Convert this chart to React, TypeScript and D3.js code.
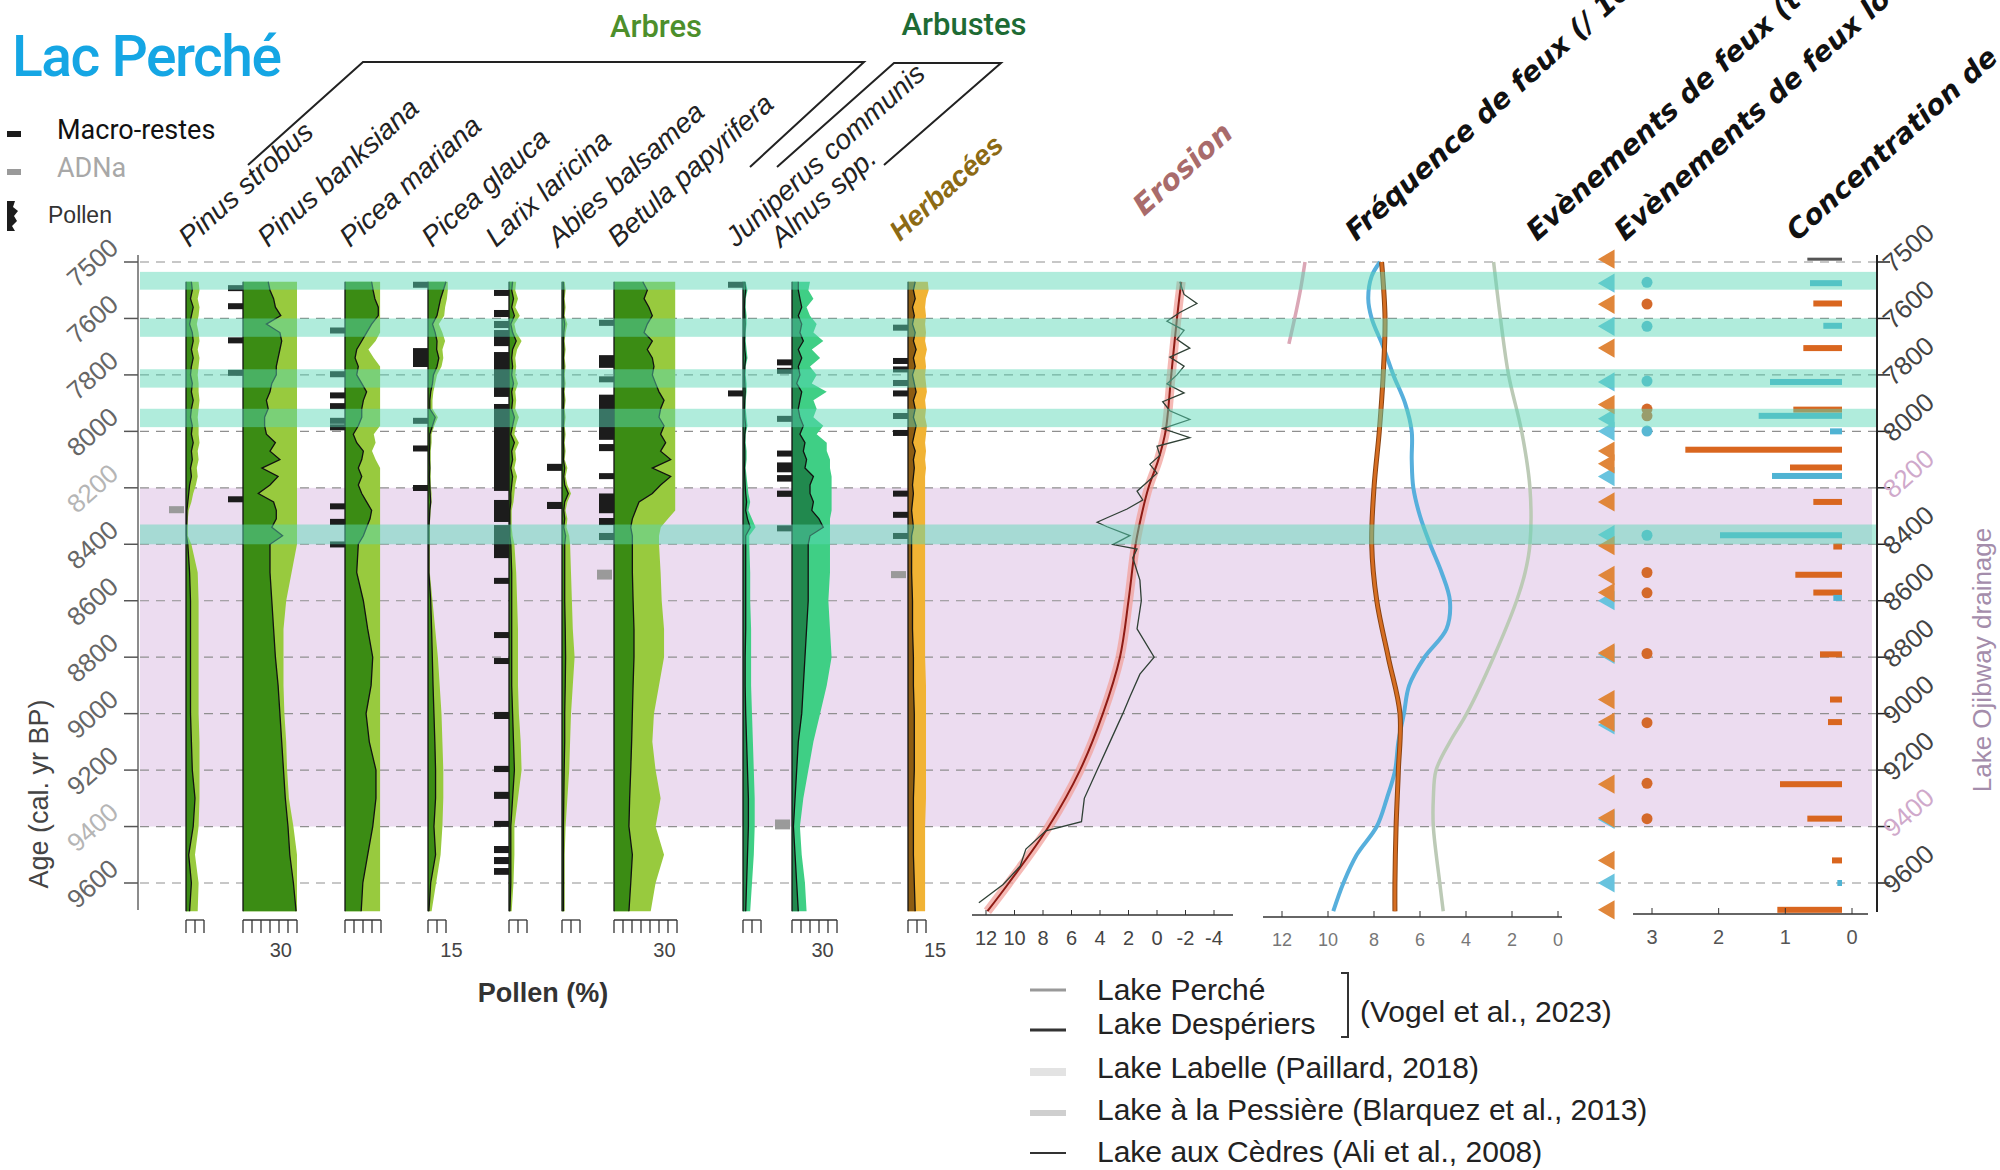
import * as d3 from 'd3'

// ---------- data ----------
const ageTicks = [7400, 7600, 7800, 8000, 8200, 8400, 8600, 8800, 9000, 9200, 9400, 9600]
const ageTickLabels = ['7500', '7600', '7800', '8000', '8200', '8400', '8600', '8800', '9000', '9200', '9400', '9600']
const ojibwayDrainage = [8200, 9400]
const fireBands = [[7435, 7498], [7600, 7665], [7780, 7845], [7920, 7985], [8330, 8400]]

const pollenAges = [7470, 7500, 7530, 7560, 7590, 7620, 7650, 7680, 7710, 7740, 7770, 7800, 7830, 7860, 7890, 7920, 7950, 7980, 8010, 8040, 8070, 8100, 8130, 8160, 8190, 8220, 8250, 8280, 8310, 8340, 8370, 8400, 8500, 8600, 8700, 8800, 8900, 9000, 9100, 9200, 9300, 9400, 9500, 9600, 9700]

const strobusDark = [3, 3.5, 2.5, 4, 3, 2, 3.5, 4, 3, 4, 3, 2.5, 3.5, 3, 4, 3, 2.5, 3.5, 3, 4, 3, 3.5, 2.5, 3, 2, 1.5, 1, 0.5, 0.5, 0.3, 0.3, 1, 2, 2.5, 2.5, 2.5, 2.5, 2.5, 3, 3.5, 5, 4, 1.5, 3, 2]
const strobusLight = [7, 7.5, 6.5, 7.5, 7, 6, 7, 7.5, 6.5, 7.5, 7, 6.5, 7, 7, 7.5, 7, 6.5, 7, 7, 7.5, 6.5, 7, 6, 6.5, 5.5, 4, 3, 1.5, 1, 1, 1, 3, 6.5, 7, 7, 7, 7, 7, 7.5, 7.5, 7.5, 7, 5, 7, 6.5]
const banksianaDark = [14, 15, 17, 18, 21, 13, 20.5, 21.5, 20.5, 19.5, 18.5, 18.5, 16, 15, 13, 14, 12, 12, 13, 18, 15, 20.5, 10.5, 19.5, 15, 8.5, 17, 18.5, 18.5, 16, 22, 15, 15, 16, 17, 18, 19.5, 20.5, 21.5, 22.5, 23.5, 25, 26, 28, 29.5]
const banksianaLight = [30, 30, 30, 30, 30, 30, 30, 30, 30, 30, 30, 30, 30, 30, 30, 30, 30, 30, 30, 30, 30, 30, 30, 30, 30, 30, 30, 30, 30, 30, 30, 30, 27, 24, 22.5, 22.5, 22.5, 23, 24, 24.5, 25.5, 28, 30, 30, 30]
const marianaDark = [14.8, 15.6, 16.6, 18.5, 18.5, 14.8, 12, 9.3, 6.5, 5.6, 7.4, 6.5, 9.3, 12, 10.2, 9.3, 9.3, 7.4, 4.6, 6.5, 10.2, 9.3, 7.4, 9.3, 7.4, 9.3, 12, 14.8, 13.9, 12, 10.2, 7.4, 6.5, 10.2, 12.6, 15.4, 14.5, 11.7, 13.5, 17.2, 17.2, 15.4, 12.6, 9.9, 9]
const marianaLight = [19.5, 19.5, 19.5, 19.5, 19.5, 19.5, 19.5, 17, 13, 16, 19.5, 19.5, 19.5, 19.5, 19.5, 19.5, 19.5, 19.5, 16, 17, 15, 17, 19.5, 19.5, 19.5, 19.5, 19.5, 19.5, 19.5, 19.5, 19.5, 19.5, 19.5, 19.5, 19.5, 19.5, 19.5, 19.5, 19.5, 19.5, 19.5, 19.5, 19.5, 19.5, 19.5]
const glaucaDark = [10, 8.5, 7, 6, 5, 2.5, 4, 5, 4.8, 6, 5, 3, 2.5, 1.5, 1, 1, 4, 2.5, 1, 1, 0.8, 0.8, 1, 0.8, 1, 1.2, 1.5, 1, 0.8, 0.5, 0.5, 0.5, 0.5, 1.5, 2, 2.4, 2.8, 3.3, 3.8, 4.2, 4.2, 3.3, 4.2, 1.5, 0.5]
const glaucaLight = [11, 11, 10.5, 9.5, 9, 6, 8, 9.5, 8, 8.5, 7.5, 5, 4, 3, 2.5, 2.5, 5.5, 3.5, 2, 2, 1.5, 1.5, 1.5, 1.5, 1.5, 2, 2, 1.5, 1.2, 1, 1, 1, 1, 2.5, 4, 5.5, 6.5, 7.5, 8, 8.5, 8.5, 8, 7, 4.5, 2]
const larixDark = [2, 1.5, 2.5, 1.5, 3, 1, 2, 4, 2, 1.5, 2, 1.5, 2.5, 1.5, 2, 1.5, 3, 2, 1, 3, 1.5, 2, 1, 2, 1.5, 1, 1, 0.5, 0.5, 0.5, 0.5, 1, 1.5, 1.5, 1.5, 1.5, 1.5, 2, 2.5, 3, 2, 1, 1, 1, 0.5]
const larixLight = [4, 3.5, 5, 3.5, 6, 3, 4, 7, 4.5, 3.5, 4, 3.5, 5, 3.5, 4, 3.5, 5.5, 4, 3, 5.5, 3.5, 4, 3, 4.5, 3.5, 3, 2.5, 1.5, 1.5, 1.5, 2, 3, 4, 4.5, 5, 5, 5, 5.5, 6.5, 7, 5, 3, 3, 2.5, 1.5]
const abiesDark = [0.8, 1, 0.8, 1, 0.8, 1.5, 1, 0.8, 1, 0.8, 1, 0.8, 1, 0.8, 1, 0.8, 1, 0.8, 1, 0.8, 1, 0.8, 1.5, 1, 1.5, 3.5, 1.5, 1, 1.5, 1, 2, 1.5, 1.5, 1.5, 1.8, 2, 1.8, 1.5, 1.5, 1.2, 1, 0.8, 0.8, 0.8, 0.8]
const abiesLight = [1.5, 2, 1.5, 2, 1.5, 3, 2, 1.5, 2, 1.5, 2, 1.5, 2, 1.5, 2, 1.5, 2, 1.5, 2, 1.5, 2, 1.5, 3, 2, 3, 5, 3, 2, 3, 2.5, 4, 4.5, 5, 5.5, 6, 7, 6, 5, 4.5, 4, 3, 2, 1.5, 1.5, 1.5]
const betulaDark = [16, 18.5, 16.7, 19.4, 21.3, 18.5, 16.7, 21.3, 18.5, 21.3, 22.2, 21.3, 23.1, 25, 27.8, 25.9, 25, 27.8, 25.9, 28.7, 25.9, 31.5, 21.3, 31.5, 25.9, 21.3, 13.9, 12, 10.2, 9.3, 10.2, 10.2, 10.2, 10.6, 11.1, 11.1, 10.6, 10.2, 9.8, 9.3, 8.7, 8.3, 10.2, 9.3, 8.3]
const betulaLight = [34, 34, 34, 34, 34, 34, 34, 34, 34, 34, 34, 34, 34, 34, 34, 34, 34, 34, 34, 34, 34, 34, 34, 34, 34, 34, 34, 34, 30, 26, 25, 25, 25.9, 26.5, 27.8, 27.8, 25, 22.2, 21.3, 23.1, 25.9, 23.1, 27.8, 23.1, 20.4]
const juniperusDark = [1, 1.5, 1, 0.8, 1, 1.2, 1, 0.8, 1, 1.5, 1, 0.8, 1, 1.2, 1, 0.8, 1, 1.5, 1, 0.8, 1, 1, 0.8, 1, 1.2, 1.5, 2, 1.5, 2.5, 4, 1.5, 1.5, 1.5, 1.5, 1.5, 1.2, 1.2, 1.5, 2, 2.5, 3, 3, 2.5, 2, 1.5]
const juniperusLight = [1.5, 2.5, 1.5, 1.5, 2, 2, 1.5, 1.5, 2, 2.5, 1.5, 1.5, 2, 2, 1.5, 1.5, 2, 2.5, 1.5, 1.5, 2, 2, 1.5, 2, 2.5, 3, 4, 3, 5, 7, 3.5, 3.5, 4, 4, 4.5, 4.5, 4.5, 5, 5.5, 6, 6.5, 6.5, 6, 5, 4]
const alnusDark = [3.5, 3.5, 4.4, 5.4, 3.5, 5.4, 4.4, 6.3, 3.5, 5.4, 3.5, 4.4, 2.6, 5.4, 4.4, 3.5, 4.4, 6.3, 4.4, 7.2, 6.3, 8.1, 7.2, 11.9, 10, 10, 11.9, 11, 15, 17.4, 10, 9, 9, 9, 8.1, 7.2, 6.3, 5.4, 3.5, 2.6, 1.7, 0.8, 1.7, 2.6, 3.5]
const alnusLight = [10, 9.1, 11.9, 8.1, 10, 13.7, 11.9, 17.4, 11, 15.6, 10, 13.7, 11, 19.3, 11.9, 13.7, 11.9, 17.4, 13.7, 19.3, 19.3, 21.1, 21.1, 22, 22, 22, 22, 22, 21.1, 21.1, 21.1, 21.1, 21.1, 20.2, 21.1, 22, 19.3, 15.6, 11.9, 9.1, 6.3, 4.4, 5.4, 7.2, 8.1]
const herbDark = [4, 3, 4, 2.5, 3.5, 2.5, 4, 3, 4.5, 3, 4, 2.5, 3.5, 4.5, 3, 4, 3, 4.5, 3.5, 2.5, 4, 3, 3.5, 3, 2.5, 3, 2.5, 2, 2.5, 3, 2, 2, 2, 2.5, 2.5, 3, 3, 3.5, 3.5, 3.5, 3, 3, 3, 3.5, 4]
const herbLight = [11, 11.5, 10, 9.5, 10, 9.5, 10, 9.5, 10.5, 9.5, 10, 9.5, 10, 10.5, 9.5, 10, 9.5, 10.5, 10, 9.5, 10, 9.5, 10, 9.5, 9.5, 9.5, 9.5, 9.5, 9.5, 9.5, 9.5, 9.5, 9.5, 9.5, 9.5, 9.5, 10, 10, 10, 10, 10, 9.5, 9.5, 9.5, 9.5]

// macro-remains (black) and sedaDNA (grey) as [start age, end age]
const strobusAdna = [[8265, 8290]]
const banksianaMacro = [[7482, 7500], [7546, 7564], [7667, 7685], [7782, 7800], [8230, 8250]]
const marianaMacro = [[7632, 7652], [7787, 7805], [7862, 7880], [7900, 7918], [7952, 7970], [7975, 7990], [8255, 8273], [8310, 8328], [8390, 8410]]
const glaucaMacro = [[7470, 7478], [7705, 7772], [7952, 7970], [8050, 8070], [8190, 8210]]
const larixMacro = [[7499, 7517], [7570, 7595], [7609, 7634], [7641, 7698], [7719, 7878], [7903, 8211], [8243, 8321], [8332, 8449], [8519, 8537], [8711, 8725], [8803, 8820], [8994, 9019], [9185, 9207], [9277, 9302], [9380, 9398], [9469, 9494], [9508, 9533], [9547, 9571]]
const abiesMacro = [[8115, 8140], [8250, 8275]]
const betulaMacro = [[7605, 7622], [7730, 7775], [7805, 7822], [7870, 8030], [8045, 8070], [8148, 8165], [8220, 8290], [8307, 8332], [8360, 8385]]
const betulaAdna = [[8490, 8525]]
const juniperusMacro = [[7470, 7490], [7855, 7873]]
const alnusMacro = [[7745, 7765], [7775, 7795], [7945, 7963], [8068, 8085], [8110, 8145], [8155, 8178], [8210, 8232], [8333, 8350]]
const alnusAdna = [[9375, 9410]]
const herbMacro = [[7622, 7640], [7740, 7758], [7770, 7790], [7818, 7835], [7855, 7872], [7935, 7952], [7995, 8012], [8210, 8228], [8285, 8303], [8360, 8378]]
const herbAdna = [[8495, 8520]]

// erosion
const erosionSmoothAges = [7470, 7600, 7800, 8000, 8100, 8200, 8300, 8400, 8600, 8800, 9000, 9200, 9400, 9600, 9700]
const erosionSmoothVals = [-1.7, -1.4, -1.0, -0.6, -0.1, 0.6, 1.1, 1.5, 2.0, 2.6, 3.8, 5.4, 7.6, 10.4, 11.9]
const erosionRawAges = [7470, 7515, 7547, 7579, 7610, 7642, 7674, 7705, 7737, 7769, 7800, 7832, 7864, 7895, 7927, 7958, 7990, 8022, 8053, 8085, 8117, 8148, 8180, 8212, 8243, 8275, 8306, 8322, 8338, 8369, 8401, 8417, 8448, 8527, 8600, 8700, 8800, 8860, 8940, 9000, 9100, 9200, 9300, 9383, 9415, 9480, 9540, 9605, 9670]
const erosionRawVals = [-1.6, -1.9, -2.8, -1.6, -0.7, -1.9, -1.4, -2.3, -0.9, -1.9, -1.4, -0.7, -1.9, -0.4, -0.9, -2.3, -0.4, -2.3, 0.0, -0.2, 0.5, 0.0, 0.7, 1.4, 1.0, 2.1, 3.5, 4.2, 3.5, 1.9, 3.1, 1.4, 1.7, 1.2, 1.1, 1.4, 0.2, 1.2, 1.9, 2.4, 3.3, 4.2, 5.1, 5.3, 7.8, 9.2, 9.6, 10.8, 12.5]
const erosionTicks = [12, 10, 8, 6, 4, 2, 0, -2, -4]

// fire frequency
const freqOrangeAges = [7400, 7600, 7800, 8000, 8200, 8400, 8600, 8800, 9000, 9200, 9400, 9600, 9700]
const freqOrangeVals = [7.67, 7.52, 7.6, 7.77, 8.0, 8.1, 7.88, 7.38, 6.87, 6.94, 7.04, 7.09, 7.09]
const freqBlueAges = [7400, 7450, 7530, 7600, 7700, 7800, 7900, 8000, 8100, 8200, 8300, 8400, 8500, 8600, 8700, 8800, 8900, 9000, 9100, 9200, 9300, 9400, 9500, 9600, 9700]
const freqBlueVals = [7.74, 8.1, 8.25, 8.1, 7.6, 7.16, 6.65, 6.36, 6.36, 6.29, 6.0, 5.56, 5.06, 4.7, 4.85, 5.8, 6.47, 6.7, 6.94, 7.08, 7.44, 7.88, 8.75, 9.33, 9.77]
const freqSageAges = [7400, 7600, 7800, 8000, 8200, 8400, 8500, 8600, 8800, 9000, 9100, 9200, 9300, 9400, 9600, 9700]
const freqSageVals = [2.8, 2.5, 2.15, 1.58, 1.22, 1.22, 1.43, 1.8, 2.8, 3.97, 4.7, 5.3, 5.42, 5.42, 5.14, 4.99]
const freqPinkAges = [7400, 7500, 7600, 7690]
const freqPinkVals = [11.0, 11.2, 11.45, 11.7]
const freqTicks = [12, 10, 8, 6, 4, 2, 0]

// fire events
const allEventsOrange = [7390, 7550, 7705, 7905, 8070, 8115, 8250, 8405, 8510, 8571, 8785, 8950, 9030, 9250, 9370, 9520, 9695]
const allEventsBlue = [7475, 7628, 7825, 7955, 8000, 8160, 8366, 8600, 8790, 9040, 9375, 9600]
const localEventsOrange = [7549, 7921, 7945, 8500, 8572, 8787, 9032, 9247, 9372]
const localEventsBlue = [7472, 7628, 7822, 7999, 8368]

// charcoal concentration
const charOrangeAges = [7547, 7705, 7923, 8065, 8128, 8250, 8408, 8508, 8571, 8790, 8950, 9030, 9250, 9372, 9520, 9695]
const charOrangeVals = [0.58, 0.73, 0.88, 2.5, 0.93, 0.58, 0.28, 0.85, 0.58, 0.48, 0.33, 0.36, 1.08, 0.67, 0.3, 1.12]
const charBlueAges = [7475, 7626, 7825, 7945, 8000, 8158, 8368, 8590, 9600]
const charBlueVals = [0.63, 0.43, 1.23, 1.4, 0.33, 1.2, 1.98, 0.28, 0.22]
const charGreyAges = [7390]
const charGreyVals = [0.67]
const charBase = 0.15
const charTicks = [3, 2, 1, 0]

const legendItems = ['Lake Perché', 'Lake Despériers', 'Lake Labelle (Paillard, 2018)', 'Lake à la Pessière (Blarquez et al., 2013)', 'Lake aux Cèdres (Ali et al., 2008)']

// ---------- layout ----------
const SANS = "'Liberation Sans', Arial, sans-serif"
const PCT = 1.8
const ANG = -42
const yAge = d3.scaleLinear().domain([7400, 9600]).range([262, 883])
const xEro = d3.scaleLinear().domain([12, -4]).range([986, 1214])
const xFreq = d3.scaleLinear().domain([12, 0]).range([1282, 1558])
const xChar = d3.scaleLinear().domain([3, 0]).range([1652, 1852])

const COLORS = {
  tree: { dark: '#3b8c14', light: '#98ca3e' },
  shrub: { dark: '#21894e', light: '#3fcf85' },
  herb: { dark: '#8c5c12', light: '#f1b334' },
}

const taxa = [
  { name: 'Pinus strobus', x0: 186, dark: strobusDark, light: strobusLight, tickMax: 10, group: 'tree', macro: [], adna: strobusAdna, lx: 189 },
  { name: 'Pinus banksiana', x0: 243, dark: banksianaDark, light: banksianaLight, tickMax: 30, tickLabel: '30', tickLabelPct: 21, group: 'tree', macro: banksianaMacro, adna: [], lx: 268 },
  { name: 'Picea mariana', x0: 345, dark: marianaDark, light: marianaLight, tickMax: 20, group: 'tree', macro: marianaMacro, adna: [], lx: 350 },
  { name: 'Picea glauca', x0: 428, dark: glaucaDark, light: glaucaLight, tickMax: 10, tickLabel: '15', tickLabelPct: 13, group: 'tree', macro: glaucaMacro, adna: [], lx: 432 },
  { name: 'Larix laricina', x0: 509, dark: larixDark, light: larixLight, tickMax: 10, group: 'tree', macro: larixMacro, adna: [], lx: 496 },
  { name: 'Abies balsamea', x0: 562, dark: abiesDark, light: abiesLight, tickMax: 10, group: 'tree', macro: abiesMacro, adna: [], lx: 558 },
  { name: 'Betula papyrifera', x0: 614, dark: betulaDark, light: betulaLight, tickMax: 35, tickLabel: '30', tickLabelPct: 28, group: 'tree', macro: betulaMacro, adna: betulaAdna, lx: 618 },
  { name: 'Juniperus communis', x0: 743, dark: juniperusDark, light: juniperusLight, tickMax: 10, group: 'shrub', macro: juniperusMacro, adna: [], lx: 736 },
  { name: 'Alnus spp.', x0: 792, dark: alnusDark, light: alnusLight, tickMax: 25, tickLabel: '30', tickLabelPct: 17, group: 'shrub', macro: alnusMacro, adna: alnusAdna, lx: 781 },
  { name: null, x0: 908, dark: herbDark, light: herbLight, tickMax: 10, tickLabel: '15', tickLabelPct: 15, group: 'herb', macro: herbMacro, adna: herbAdna, lx: 0 },
]

function PollenPanel({ t }: { t: any }) {
  const x = d3.scaleLinear().domain([0, 100]).range([t.x0, t.x0 + 100 * PCT])
  const col = COLORS[t.group as keyof typeof COLORS]
  const area = d3.area<number>().y((_, i) => yAge(pollenAges[i])).x0(x(0)).x1(d => x(d))
  const line = d3.line<number>().x(d => x(d)).y((_, i) => yAge(pollenAges[i]))
  const ticks = d3.range(0, t.tickMax + 1, 5)
  const axisY = 920
  return (
    <g>
      <path d={area(t.light) || ''} fill={col.light} />
      <path d={area(t.dark) || ''} fill={col.dark} />
      <path d={line(t.dark) || ''} fill="none" stroke="#111" strokeWidth={1.3} />
      <line x1={x(0)} x2={x(0)} y1={yAge(pollenAges[0])} y2={yAge(pollenAges[pollenAges.length - 1])} stroke="#111" strokeWidth={1.3} />
      {t.macro.map((m: number[], i: number) => (
        <rect key={'m' + i} x={t.x0 - 15} width={15} y={yAge(m[0])} height={Math.max(6, yAge(m[1]) - yAge(m[0]))} fill="#1c1c1c" />
      ))}
      {t.adna.map((m: number[], i: number) => (
        <rect key={'a' + i} x={t.x0 - 17} width={15} y={yAge(m[0])} height={Math.max(6, yAge(m[1]) - yAge(m[0]))} fill="#9a9a9a" />
      ))}
      <line x1={x(0)} x2={x(t.tickMax)} y1={axisY} y2={axisY} stroke="#333" strokeWidth={1.3} />
      {ticks.map(v => (
        <line key={v} x1={x(v)} x2={x(v)} y1={axisY} y2={axisY + 13} stroke="#333" strokeWidth={1.3} />
      ))}
      {t.tickLabel && (
        <text x={x(t.tickLabelPct)} y={957} textAnchor="middle" fontSize={20} fill="#444">{t.tickLabel}</text>
      )}
    </g>
  )
}

function RotLabel({ x, y, text, size, fill, weight = 400, style = 'italic', family = SANS, anchor = 'start' }: any) {
  return (
    <text transform={`translate(${x},${y}) rotate(${ANG})`} fontSize={size} fill={fill} fontWeight={weight}
      fontStyle={style} fontFamily={family} textAnchor={anchor}>{text}</text>
  )
}

export default function App() {
  const W = 2000, H = 1170
  const L = 140, R = 1876
  const curve = d3.curveCatmullRom
  const eroSmooth = d3.line<number>().x(d => xEro(d)).y((_, i) => yAge(erosionSmoothAges[i])).curve(curve)
  const eroRaw = d3.line<number>().x(d => xEro(d)).y((_, i) => yAge(erosionRawAges[i]))
  const freqLine = (ages: number[]) => d3.line<number>().x(d => xFreq(d)).y((_, i) => yAge(ages[i])).curve(curve)
  const tri = d3.symbol(d3.symbolTriangle, 160)()
  const charBar = (ages: number[], vals: number[], fill: string, h: number, key: string) =>
    ages.map((a, i) => (
      <rect key={key + a} x={xChar(vals[i])} width={xChar(charBase) - xChar(vals[i])} y={yAge(a) - h / 2} height={h} fill={fill} />
    ))

  return (
    <svg width={W} height={H} style={{ position: 'absolute', left: 0, top: 0, background: '#fff' }} fontFamily={SANS}>
      <rect width={W} height={H} fill="#fff" />

      {/* background bands and grid */}
      <rect x={L} width={R - 4 - L} y={yAge(ojibwayDrainage[0])} height={yAge(ojibwayDrainage[1]) - yAge(ojibwayDrainage[0])} fill="#ecdcf0" />
      {ageTicks.map(a => (
        <line key={a} x1={L} x2={R} y1={yAge(a)} y2={yAge(a)} stroke="#8f8f8f" strokeWidth={1.2} strokeDasharray="9 7" />
      ))}

      {/* pollen panels */}
      {taxa.map((t, i) => <PollenPanel key={i} t={t} />)}

      {/* erosion */}
      <path d={eroSmooth(erosionSmoothVals) || ''} fill="none" stroke="#f2a19c" strokeWidth={9} strokeOpacity={0.75} />
      <path d={eroSmooth(erosionSmoothVals) || ''} fill="none" stroke="#8e1b14" strokeWidth={2} />
      <path d={eroRaw(erosionRawVals) || ''} fill="none" stroke="#2f4035" strokeWidth={1.3} />
      <line x1={972} x2={1233} y1={915} y2={915} stroke="#333" strokeWidth={1.3} />
      {erosionTicks.map(v => (
        <g key={v}>
          <line x1={xEro(v)} x2={xEro(v)} y1={915} y2={910} stroke="#333" />
          <text x={xEro(v)} y={945} textAnchor="middle" fontSize={20} fill="#444">{v}</text>
        </g>
      ))}

      {/* fire frequency */}
      <path d={freqLine(freqPinkAges)(freqPinkVals) || ''} fill="none" stroke="#dba7b6" strokeWidth={3.5} />
      <path d={freqLine(freqSageAges)(freqSageVals) || ''} fill="none" stroke="#bccab6" strokeWidth={3.5} />
      <path d={freqLine(freqBlueAges)(freqBlueVals) || ''} fill="none" stroke="#57afdc" strokeWidth={4} />
      <path d={freqLine(freqOrangeAges)(freqOrangeVals) || ''} fill="none" stroke="#8a4312" strokeWidth={5} />
      <path d={freqLine(freqOrangeAges)(freqOrangeVals) || ''} fill="none" stroke="#d66e22" strokeWidth={3} />
      <line x1={1263} x2={1562} y1={917} y2={917} stroke="#333" strokeWidth={1.3} />
      {freqTicks.map(v => (
        <g key={v}>
          <line x1={xFreq(v)} x2={xFreq(v)} y1={917} y2={911} stroke="#333" />
          <text x={xFreq(v)} y={946} textAnchor="middle" fontSize={18} fill="#777">{v}</text>
        </g>
      ))}

      {/* fire events */}
      {allEventsBlue.map(a => (
        <path key={'tb' + a} d={tri || ''} transform={`translate(1609,${yAge(a)}) rotate(-90)`} fill="#68c3de" />
      ))}
      {allEventsOrange.map(a => (
        <path key={'to' + a} d={tri || ''} transform={`translate(1609,${yAge(a)}) rotate(-90)`} fill="#e0863a" />
      ))}
      {localEventsOrange.map(a => <circle key={'do' + a} cx={1647} cy={yAge(a)} r={5.5} fill="#d4692a" />)}
      {localEventsBlue.map(a => <circle key={'db' + a} cx={1647} cy={yAge(a)} r={5.5} fill="#58b7d3" />)}

      {/* charcoal */}
      {charBar(charGreyAges, charGreyVals, '#555', 3, 'cg')}
      {charBar(charOrangeAges, charOrangeVals, '#d9661f', 6, 'co')}
      {charBar(charBlueAges, charBlueVals, '#4fb3d3', 6, 'cb')}
      <line x1={1633} x2={1868} y1={914} y2={914} stroke="#333" strokeWidth={1.3} />
      {charTicks.map(v => (
        <g key={v}>
          <line x1={xChar(v)} x2={xChar(v)} y1={914} y2={908} stroke="#333" />
          <text x={xChar(v)} y={944} textAnchor="middle" fontSize={20} fill="#555">{v}</text>
        </g>
      ))}

      {/* fire highlight bands */}
      {fireBands.map((b, i) => (
        <rect key={i} x={L} width={R - L} y={yAge(b[0])} height={yAge(b[1]) - yAge(b[0])} fill="#59d8b5" opacity={0.48} />
      ))}

      {/* left axis */}
      <line x1={138} x2={138} y1={255} y2={910} stroke="#666" strokeWidth={1.5} />
      {ageTicks.map((a, i) => {
        const faded = a === ojibwayDrainage[0] || a === ojibwayDrainage[1]
        return (
          <g key={a}>
            <line x1={124} x2={138} y1={yAge(a)} y2={yAge(a)} stroke="#555" strokeWidth={1.5} />
            <RotLabel x={120} y={yAge(a) - 12} text={ageTickLabels[i]} size={26} fill={faded ? '#b5b5b5' : '#666'} style="normal" anchor="end" />
          </g>
        )
      })}
      <text transform={`translate(48,794) rotate(-90)`} textAnchor="middle" fontSize={27} fill="#444">Age (cal. yr BP)</text>

      {/* right axis */}
      <line x1={1877} x2={1877} y1={255} y2={912} stroke="#222" strokeWidth={2} />
      {ageTicks.map((a, i) => {
        const faded = a === ojibwayDrainage[0] || a === ojibwayDrainage[1]
        return (
          <g key={'r' + a}>
            <line x1={1877} x2={1890} y1={yAge(a)} y2={yAge(a)} stroke="#222" strokeWidth={1.5} />
            <RotLabel x={1893} y={yAge(a) + 12} text={ageTickLabels[i]} size={26} fill={faded ? '#cfa9cb' : '#444'} style="normal" />
          </g>
        )
      })}
      <text transform={`translate(1991,660) rotate(-90)`} textAnchor="middle" fontSize={26} fill="#a48dab">Lake Ojibway drainage</text>

      {/* title and legend */}
      <text x={12} y={76} fontSize={57} fontWeight={500} fill="#15a6e4" fontFamily="Roboto, sans-serif" letterSpacing={-1.5}>Lac Perché</text>
      <rect x={7} y={131} width={14} height={6} fill="#1c1c1c" />
      <text x={57} y={139} fontSize={27} fill="#111" fontFamily="Roboto, sans-serif">Macro-restes</text>
      <rect x={7} y={169} width={14} height={6} fill="#9a9a9a" />
      <text x={57} y={177} fontSize={27} fill="#a8a8a8" fontFamily="Roboto, sans-serif">ADNa</text>
      <path d="M7,201 L15,201 L13,207 L18,211 L14,216 L17,221 L12,226 L15,231 L7,231 Z" fill="#1c1c1c" />
      <text x={48} y={223} fontSize={23} fill="#333">Pollen</text>

      {/* group labels and brackets */}
      <text x={656} y={37} textAnchor="middle" fontSize={31} fontWeight={500} fill="#4d8f2b" fontFamily="Roboto, sans-serif">Arbres</text>
      <text x={964} y={35} textAnchor="middle" fontSize={31} fontWeight={500} fill="#1e6b34" fontFamily="Roboto, sans-serif">Arbustes</text>
      <polyline points="248,165 363,62 864,62 750,167" fill="none" stroke="#222" strokeWidth={2} />
      <polyline points="777,167 894,63 1001,63 884,165" fill="none" stroke="#222" strokeWidth={2} />

      {taxa.filter(t => t.name).map(t => (
        <RotLabel key={t.name as string} x={t.lx} y={248} text={t.name} size={28} fill="#222" />
      ))}
      <RotLabel x={900} y={242} text="Herbacées" size={28} fill="#8c6a14" weight={700} />
      <RotLabel x={1144} y={217} text="Erosion" size={29} fill="#a96b6b" weight={700} family="'DejaVu Sans', sans-serif" style="oblique" />
      <RotLabel x={1356} y={242} text="Fréquence de feux (/ 1000 ans)" size={28} fill="#111" weight={700} family="'DejaVu Sans', sans-serif" style="oblique" />
      <RotLabel x={1537} y={242} text="Evènements de feux (tous)" size={28} fill="#111" weight={700} family="'DejaVu Sans', sans-serif" style="oblique" />
      <RotLabel x={1625} y={242} text="Evènements de feux locaux" size={28} fill="#111" weight={700} family="'DejaVu Sans', sans-serif" style="oblique" />
      <RotLabel x={1797} y={242} text="Concentration de charbon" size={28} fill="#111" weight={700} family="'DejaVu Sans', sans-serif" style="oblique" />

      {/* axis title */}
      <text x={543} y={1002} textAnchor="middle" fontSize={27} fontWeight={700} fill="#333">Pollen (%)</text>

      {/* bottom legend */}
      <line x1={1030} x2={1066} y1={990} y2={990} stroke="#999" strokeWidth={3} />
      <line x1={1030} x2={1066} y1={1030} y2={1030} stroke="#333" strokeWidth={3} />
      <line x1={1030} x2={1066} y1={1072} y2={1072} stroke="#e3e3e3" strokeWidth={8} />
      <line x1={1030} x2={1066} y1={1113} y2={1113} stroke="#cfcfcf" strokeWidth={6} />
      <line x1={1030} x2={1066} y1={1153} y2={1153} stroke="#333" strokeWidth={2} />
      {legendItems.map((s, i) => (
        <text key={s} x={1097} y={[1000, 1034, 1078, 1120, 1162][i]} fontSize={30} fill="#222">{s}</text>
      ))}
      <polyline points="1341,973 1348,973 1348,1037 1341,1037" fill="none" stroke="#333" strokeWidth={2} />
      <text x={1360} y={1022} fontSize={30} fill="#222">(Vogel et al., 2023)</text>
    </svg>
  )
}
